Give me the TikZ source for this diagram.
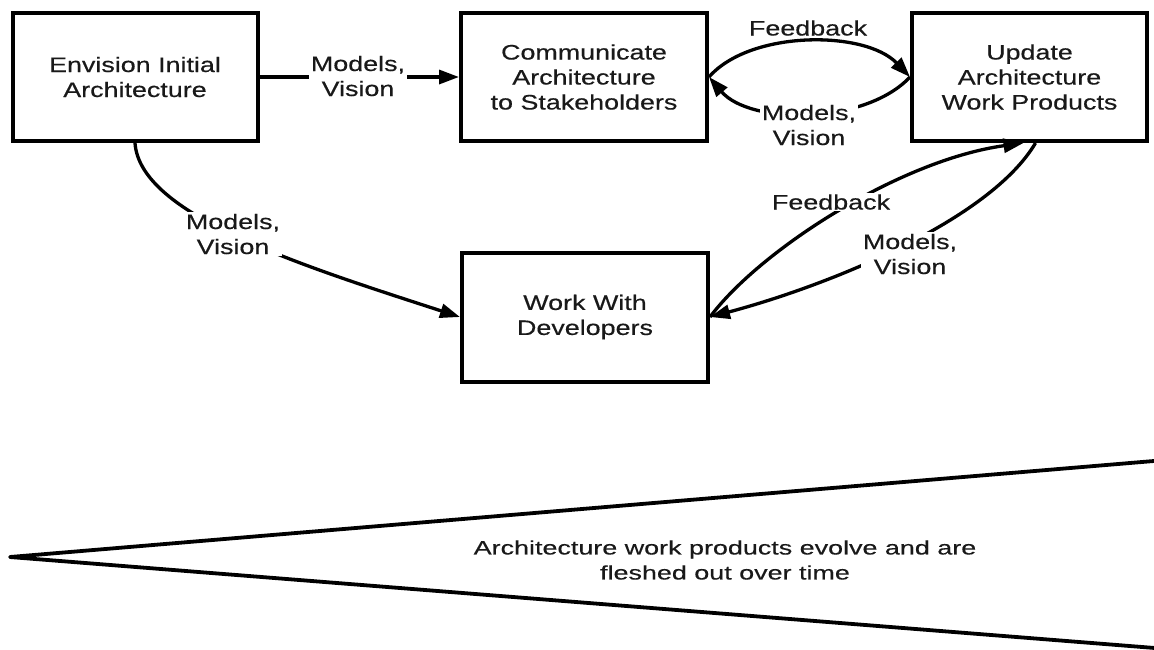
\documentclass[tikz,border=0pt]{standalone}
\usepackage{fontspec}
\setmainfont{Liberation Sans}
\newfontfamily\boxfont[FakeStretch=1.28,FakeBold=0.4]{Liberation Sans}
\newfontfamily\botfont[FakeStretch=1.38,FakeBold=0.4]{Liberation Sans}
\usetikzlibrary{arrows.meta}
\begin{document}
\begin{tikzpicture}[x=1pt,y=-1pt,
  every node/.style={font=\boxfont\fontsize{21}{25}\selectfont, text=black!90},
  box/.style={draw=black, line width=4pt, align=center, inner sep=0pt},
  arr/.style={line width=3.3pt, -{Triangle[length=20pt,width=14pt]}},
  lbl/.style={fill=white, inner sep=1.5pt, align=center},
  wedge/.style={line width=3.8pt, line join=round}]
\useasboundingbox (0,0) rectangle (1154,649);
\clip (0,0) rectangle (1154,649);
\fill[white] (0,0) rectangle (1154,649);

\node[box, minimum width=245pt, minimum height=128pt] (b1) at (135,77) {Envision Initial\\Architecture};
\node[box, minimum width=246pt, minimum height=128pt] (b2) at (584,77) {Communicate\\Architecture\\to Stakeholders};
\node[box, minimum width=235pt, minimum height=128pt] (b3) at (1029.5,77) {Update\\Architecture\\Work Products};
\node[box, minimum width=246pt, minimum height=129pt] (b4) at (585,317) {Work With\\Developers};

\draw[arr] (b1.east) -- (b2.west);
\draw[arr] (b1.south) .. controls (140,215) and (300,265) .. (b4.west);
\draw[arr] (b2.east) .. controls (750,30) and (865,30) .. (b3.west);
\draw[arr] (b3.west) .. controls (865,125) and (750,125) .. (b2.east);
\draw[arr] (b4.east) .. controls (760,250) and (900,160) .. ([xshift=-6pt]b3.south);
\draw[arr] ([xshift=6pt]b3.south) .. controls (990,220) and (830,285) .. (b4.east);

\node[lbl] (l1) at (358,76) {Models,\\Vision};
\node[lbl] (l2) at (233,234) {Models,\\Vision};
\node[lbl] (l3) at (808,28) {Feedback};
\node[lbl] (l4) at (809,125) {Models,\\Vision};
\node[lbl] (l5) at (831,202) {Feedback};
\node[lbl] (l6) at (910,254) {Models,\\Vision};

\coordinate (apex) at (10,557);
\coordinate (tr) at (1180,458.8);
\coordinate (br) at (1180,650);
\draw[wedge] (tr) -- (apex) -- (br);
\node[font=\botfont\fontsize{19.5}{25}\selectfont, align=center] (note) at (725,560) {Architecture work products evolve and are\\fleshed out over time};
\end{tikzpicture}
\end{document}
